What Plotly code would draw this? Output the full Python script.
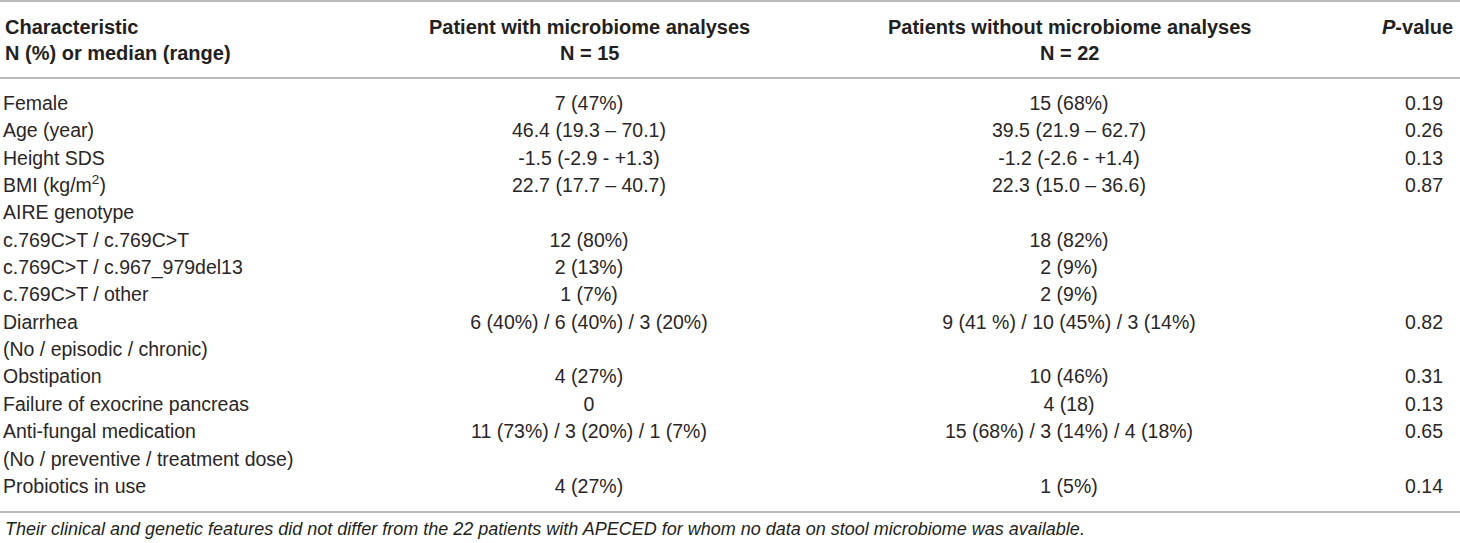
import plotly.graph_objects as go

# table content
characteristics = [
    "Female", "Age (year)", "Height SDS", "BMI (kg/m<sup>2</sup>)", "AIRE genotype",
    "c.769C>T / c.769C>T", "c.769C>T / c.967_979del13", "c.769C>T / other",
    "Diarrhea", "(No / episodic / chronic)", "Obstipation", "Failure of exocrine pancreas",
    "Anti-fungal medication", "(No / preventive / treatment dose)", "Probiotics in use",
]
with_microbiome = [
    "7 (47%)", "46.4 (19.3 – 70.1)", "-1.5 (-2.9 - +1.3)", "22.7 (17.7 – 40.7)", "",
    "12 (80%)", "2 (13%)", "1 (7%)",
    "6 (40%) / 6 (40%) / 3 (20%)", "", "4 (27%)", "0",
    "11 (73%) / 3 (20%) / 1 (7%)", "", "4 (27%)",
]
without_microbiome = [
    "15 (68%)", "39.5 (21.9 – 62.7)", "-1.2 (-2.6 - +1.4)", "22.3 (15.0 – 36.6)", "",
    "18 (82%)", "2 (9%)", "2 (9%)",
    "9 (41 %) / 10 (45%) / 3 (14%)", "", "10 (46%)", "4 (18)",
    "15 (68%) / 3 (14%) / 4 (18%)", "", "1 (5%)",
]
p_values = [
    "0.19", "0.26", "0.13", "0.87", "",
    "", "", "",
    "0.82", "", "0.31", "0.13",
    "0.65", "", "0.14",
]
header_top = ["Characteristic", "Patient with microbiome analyses",
              "Patients without microbiome analyses", "<i>P</i>-value"]
header_sub = ["N (%) or median (range)", "N = 15", "N = 22", ""]
footnote = ("Their clinical and genetic features did not differ from the 22 patients "
            "with APECED for whom no data on stool microbiome was available.")

W, H = 1460, 543
row0_px, pitch = 105, 27.36
y_top = -row0_px / pitch
y_bot = (H - row0_px) / pitch


def px(p):
    return (p - row0_px) / pitch


ink = "#231f20"
body = dict(family="Liberation Sans, Arial, sans-serif", size=19.5, color="#2a2627")

col_x = [3, 589, 1069, 1443]
columns = [characteristics, with_microbiome, without_microbiome, p_values]
positions = ["middle right", "middle center", "middle center", "middle left"]

fig = go.Figure()
for cx, col, pos in zip(col_x, columns, positions):
    keep = [i for i, t in enumerate(col) if t]
    fig.add_trace(go.Scatter(x=[cx] * len(keep), y=keep, text=[col[i] for i in keep],
                             mode="text", textposition=pos, textfont=body,
                             hoverinfo="skip"))

head = dict(family="Liberation Sans, Arial, sans-serif", size=20, color=ink)
hx = [3, 589, 1069, 1455]
anchors = ["left", "center", "center", "right"]
for i in range(4):
    fig.add_annotation(x=hx[i], y=px(27), text="<b>" + header_top[i] + "</b>",
                       xanchor=anchors[i], yanchor="middle", showarrow=False, font=head)
    if header_sub[i]:
        fig.add_annotation(x=hx[i], y=px(53), text="<b>" + header_sub[i] + "</b>",
                           xanchor=anchors[i], yanchor="middle", showarrow=False, font=head)

fig.add_annotation(x=3, y=px(529), text="<i>" + footnote + "</i>", xanchor="left",
                   yanchor="middle", showarrow=False,
                   font=dict(family="Liberation Sans, Arial, sans-serif", size=18, color=ink))

for ly in [1, 78, 512]:
    fig.add_shape(type="line", x0=0, x1=W, y0=px(ly), y1=px(ly),
                  line=dict(color="#a3a3a3", width=1.5))

fig.update_layout(
    width=W, height=H, margin=dict(l=0, r=0, t=0, b=0),
    paper_bgcolor="white", plot_bgcolor="white", showlegend=False,
    xaxis=dict(range=[0, W], visible=False, fixedrange=True),
    yaxis=dict(range=[y_bot, y_top], visible=False, fixedrange=True),
)

fig.write_html("out.html", config={"displayModeBar": False},
               post_script="document.body.style.margin='0';document.body.style.overflow='hidden';")
